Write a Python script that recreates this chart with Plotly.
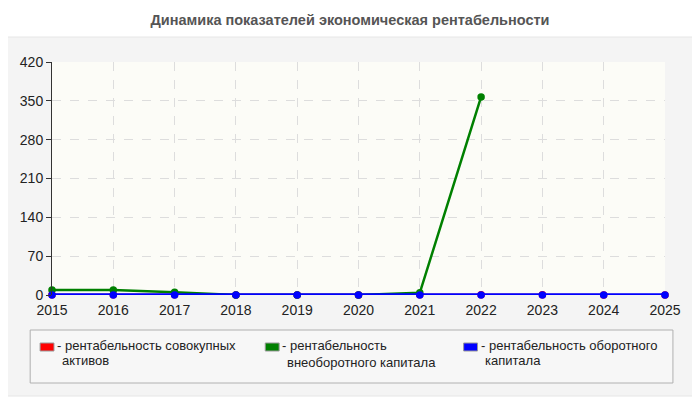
import plotly.graph_objects as go

# years and values
years = [2015, 2016, 2017, 2018, 2019, 2020, 2021, 2022, 2023, 2024, 2025]
total_assets = [0.5, 0.5, 0.4, 0.2, 0.1, 0.1, 0.3, 0.6, 0.3, 0.2, 0.2]
fixed_capital = [9, 9, 5, 0, 0, 0, 4, 357, None, None, None]
working_capital = [0, 0, 0, 0, 0, 0, 0, 0, 0, 0, 0]

names = [["рентабельность совокупных", "активов"],
         ["рентабельность", "внеоборотного капитала"],
         ["рентабельность оборотного", "капитала"]]
colors = ["#ff0000", "#008000", "#0000ff"]

fig = go.Figure()

series = [total_assets, fixed_capital, working_capital]
widths = [2, 2.5, 3.5]
for vals, col, w in zip(series, colors, widths):
    fig.add_trace(go.Scatter(
        x=years, y=vals, mode="lines+markers",
        line=dict(color=col, width=w),
        marker=dict(color=col, size=7.5),
        cliponaxis=False, showlegend=False, connectgaps=False
    ))

# page is drawn with an 8px offset; plot area on screen is px 47..665, 62..295
def px(x):
    return (x - 47) / 618

def py(y):
    return (295 - y) / 233

# grey panel behind everything
fig.add_shape(type="rect", xref="paper", yref="paper",
              x0=px(2), x1=px(697), y0=py(396), y1=py(37),
              fillcolor="#f4f4f4", line=dict(color="#e6e6e6", width=1),
              layer="below")
# plot background
fig.add_shape(type="rect", xref="paper", yref="paper",
              x0=0, x1=1, y0=0, y1=1,
              fillcolor="#fcfcf7", line=dict(width=0), layer="below")

# legend box
fig.add_shape(type="rect", xref="paper", yref="paper",
              x0=px(25), x1=px(673), y0=py(383), y1=py(330),
              fillcolor="#f7f7f7", line=dict(color="#b0b0b0", width=1))

swatch_x = [35, 262, 462]
second_line_y = [360, 362, 360]
legend_font = dict(family="Liberation Sans, Arial", size=13, color="#222222")
for sx, col, name, ly in zip(swatch_x, colors, names, second_line_y):
    fig.add_shape(type="rect", xref="paper", yref="paper",
                  x0=px(sx), x1=px(sx + 14), y0=py(351), y1=py(343),
                  fillcolor=col, line=dict(color="#999999", width=1))
    fig.add_annotation(xref="paper", yref="paper", x=px(sx + 15), y=py(345),
                       xanchor="left", yanchor="middle", align="left",
                       text="- " + name[0], showarrow=False, font=legend_font)
    fig.add_annotation(xref="paper", yref="paper", x=px(sx + 20), y=py(ly),
                       xanchor="left", yanchor="middle", align="left",
                       text=name[1], showarrow=False, font=legend_font)

fig.update_layout(
    width=700, height=400,
    margin=dict(l=39, r=43, t=54, b=113),
    paper_bgcolor="white",
    plot_bgcolor="rgba(0,0,0,0)",
    title=dict(text="<b>Динамика показателей экономическая рентабельности</b>",
               x=(350 - 8) / 700, xanchor="center", y=1 - 12 / 400, yanchor="middle",
               font=dict(family="Liberation Sans, Arial", size=14.5, color="#555555")),
    font=dict(family="Liberation Sans, Arial", size=14, color="#222222"),
    xaxis=dict(range=[2015, 2025], dtick=1, tick0=2015, showgrid=True,
               gridcolor="#dddddd", griddash="dash", zeroline=False,
               showline=False, ticks="", ticklen=0, ticklabelstandoff=5,
               tickfont=dict(size=14)),
    yaxis=dict(range=[0, 420], dtick=70, showgrid=True,
               gridcolor="#dddddd", griddash="dash", zeroline=False,
               showline=True, linecolor="#333333", ticks="outside", ticklen=5,
               tickcolor="#333333", tickfont=dict(size=14)),
    showlegend=False
)

fig.write_html("out.html")
